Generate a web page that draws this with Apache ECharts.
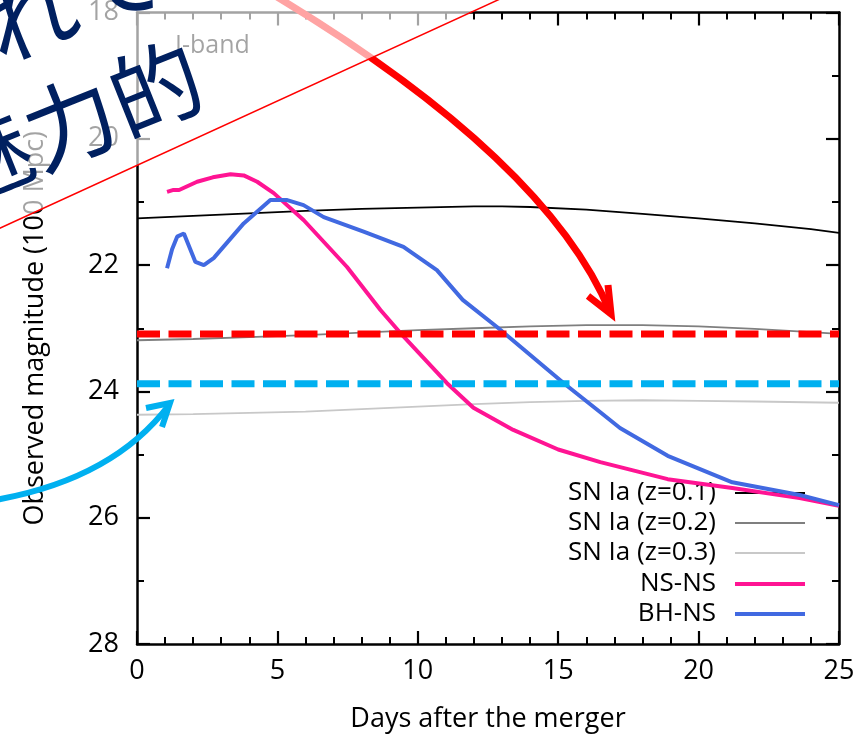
<!DOCTYPE html>
<html>
<head>
<meta charset="utf-8">
<script src="https://cdn.jsdelivr.net/npm/echarts@6/dist/echarts.min.js"></script>
<style>html,body{margin:0;padding:0;background:#fff;}#c{width:866px;height:736px;}</style>
</head>
<body>
<div id="c"></div>
<script>
// ---- data ----
const seriesNames = ['SN Ia (z=0.1)', 'SN Ia (z=0.2)', 'SN Ia (z=0.3)', 'NS-NS', 'BH-NS'];

const snIa01Days = [0, 2, 4, 6, 8, 10, 12, 13, 14, 16, 18, 20, 22, 24, 25];
const snIa01Mag  = [21.26, 21.22, 21.18, 21.14, 21.11, 21.09, 21.07, 21.07, 21.08, 21.12, 21.19, 21.26, 21.34, 21.43, 21.49];

const snIa02Days = [0, 2, 4, 6, 8, 10, 12, 14, 16, 18, 20, 22, 24, 25];
const snIa02Mag  = [23.19, 23.17, 23.14, 23.11, 23.07, 23.03, 23.0, 22.97, 22.95, 22.95, 22.97, 23.01, 23.06, 23.09];

const snIa03Days = [0, 2, 4, 6, 8, 10, 12, 14, 16, 18, 20, 22, 25];
const snIa03Mag  = [24.37, 24.36, 24.34, 24.32, 24.28, 24.24, 24.2, 24.17, 24.15, 24.14, 24.15, 24.16, 24.18];

const nsnsDays = [1.07, 1.3, 1.5, 2.14, 2.7, 3.33, 3.8, 4.28, 4.87, 5.94, 7.48, 8.67, 9.49, 11.04, 11.98, 13.4, 15, 16.5, 18.9, 21.2, 23.6, 25];
const nsnsMag  = [20.84, 20.81, 20.81, 20.68, 20.61, 20.56, 20.58, 20.68, 20.86, 21.29, 22.03, 22.71, 23.13, 23.87, 24.26, 24.61, 24.92, 25.12, 25.39, 25.53, 25.69, 25.81];

const bhnsDays = [1.07, 1.25, 1.43, 1.67, 2.08, 2.38, 2.73, 3.8, 4.75, 5.35, 5.93, 6.65, 8.07, 9.49, 10.68, 11.6, 12.82, 15.2, 16.5, 17.2, 18.9, 21.2, 23.6, 25];
const bhnsMag  = [22.05, 21.75, 21.55, 21.5, 21.95, 22.0, 21.89, 21.34, 20.97, 20.97, 21.05, 21.24, 21.47, 21.71, 22.08, 22.55, 22.98, 23.87, 24.33, 24.58, 25.02, 25.44, 25.64, 25.8];

const limitDays = [0, 25];
const limitRedMag = 23.09;
const limitBlueMag = 23.88;

const xTicks = [0, 5, 10, 15, 20, 25];
const yTicks = [18, 20, 22, 24, 26, 28];

// ---- build ----
const zip = (xs, ys) => xs.map((x, i) => [x, ys[i]]);
const FONT = '"Open Sans", "Noto Sans", sans-serif';
const colors = ['#000000', '#7f7f7f', '#c8c8c8', '#ff1493', '#4169e1'];
const widths = [1.8, 1.8, 1.8, 4, 4];
const datas = [
  zip(snIa01Days, snIa01Mag), zip(snIa02Days, snIa02Mag), zip(snIa03Days, snIa03Mag),
  zip(nsnsDays, nsnsMag), zip(bhnsDays, bhnsMag)
];

const series = seriesNames.map((n, i) => ({
  name: n, type: 'line', data: datas[i], showSymbol: false, symbol: 'none',
  lineStyle: { color: colors[i], width: widths[i] }, itemStyle: { color: colors[i] },
  z: 3 + i, silent: true
}));
series.push({
  name: 'limitRed', type: 'line', data: limitDays.map(d => [d, limitRedMag]), symbol: 'none',
  lineStyle: { color: '#ff0000', width: 7, type: [23, 8.5] }, z: 10, silent: true
});
series.push({
  name: 'limitBlue', type: 'line', data: limitDays.map(d => [d, limitBlueMag]), symbol: 'none',
  lineStyle: { color: '#00b0f0', width: 7, type: [23, 8.5] }, z: 10, silent: true
});

const legendCenters = [493, 523, 553, 584, 614];
const legendHeights = [2, 2, 2, 4, 4];
const legends = seriesNames.map((n, i) => ({
  data: [n], right: 61, top: legendCenters[i] - 15, orient: 'horizontal', align: 'right',
  icon: 'rect', itemWidth: 70, itemHeight: legendHeights[i], padding: 0,
  selectedMode: false,
  textStyle: { fontSize: 26, color: '#000', fontFamily: FONT, lineHeight: 30, padding: [0, 14, 0, 0] }
}));

const axisLineStyle = { color: '#000', width: 2.5 };
const xBase = {
  type: 'value', min: 0, max: 25, interval: 5,
  axisLine: { show: true, onZero: false, lineStyle: axisLineStyle },
  axisTick: { show: true, inside: true, length: 13, lineStyle: { color: '#000', width: 2.2 } },
  minorTick: { show: true, splitNumber: 5, length: 7, lineStyle: { color: '#000', width: 2 } },
  splitLine: { show: false }
};
const yBase = {
  type: 'value', min: 18, max: 28, interval: 2, inverse: true,
  axisLine: { show: true, onZero: false, lineStyle: axisLineStyle },
  axisTick: { show: true, inside: true, length: 13, lineStyle: { color: '#000', width: 2.2 } },
  minorTick: { show: true, splitNumber: 2, length: 7, lineStyle: { color: '#000', width: 2 } },
  splitLine: { show: false }
};

const option = {
  animation: false,
  backgroundColor: '#fff',
  title: { text: 'I-band', left: 170, top: 28, textStyle: { fontSize: 25, fontWeight: 'normal', color: '#000', fontFamily: FONT } },
  grid: { left: 137, right: 27, top: 12.5, bottom: 92, outerBoundsMode: 'none' },
  legend: legends,
  xAxis: [
    Object.assign({}, xBase, {
      position: 'bottom',
      axisLabel: { show: true, fontSize: 27, color: '#000', margin: 14, fontFamily: FONT,
        formatter: v => (xTicks.includes(v) ? String(v) : '') },
      name: 'Days after the merger', nameLocation: 'middle', nameGap: 62,
      nameTextStyle: { fontSize: 27, color: '#000', fontFamily: FONT }
    }),
    Object.assign({}, xBase, { position: 'top', axisLabel: { show: false } })
  ],
  yAxis: [
    Object.assign({}, yBase, {
      position: 'left',
      axisLabel: { show: true, fontSize: 27, color: '#000', margin: 18, fontFamily: FONT,
        formatter: v => (yTicks.includes(v) ? String(v) : '') },
      name: 'Observed magnitude (100 Mpc)', nameLocation: 'middle', nameGap: 88,
      nameTextStyle: { fontSize: 27, color: '#000', fontFamily: FONT }
    }),
    Object.assign({}, yBase, { position: 'right', axisLabel: { show: false } })
  ],
  series: series,
  graphic: [
    { type: 'bezierCurve', z: 50, silent: true,
      shape: { x1: 262, y1: -12, cpx1: 460, cpy1: 105, cpx2: 570, cpy2: 215, x2: 610, y2: 312 },
      style: { stroke: '#ff0000', lineWidth: 7, fill: null } },
    { type: 'polyline', z: 50, silent: true,
      shape: { points: [[588, 296], [611, 314], [608, 285]] },
      style: { stroke: '#ff0000', lineWidth: 7, fill: null, lineJoin: 'miter' } },
    { type: 'bezierCurve', z: 50, silent: true,
      shape: { x1: -5, y1: 500, cpx1: 80, cpy1: 485, cpx2: 135, cpy2: 450, x2: 169, y2: 405 },
      style: { stroke: '#00b0f0', lineWidth: 6, fill: null } },
    { type: 'polyline', z: 50, silent: true,
      shape: { points: [[146, 408], [170, 403], [162, 427]] },
      style: { stroke: '#00b0f0', lineWidth: 6, fill: null, lineJoin: 'miter' } },
    { type: 'polygon', z: 60, silent: true,
      shape: { points: [[0, 0], [497, 0], [0, 228]] },
      style: { fill: 'rgba(255,255,255,0.64)', stroke: null } },
    { type: 'line', z: 70, silent: true,
      shape: { x1: -2, y1: 229, x2: 500, y2: -1 },
      style: { stroke: '#ff0000', lineWidth: 1.5 } },
    { type: 'text', z: 80, silent: true, x: 70, y: 122, rotation: 0.38,
      style: { text: '魅力的', fontSize: 92, fontFamily: '"Noto Sans CJK JP"', fill: '#002060',
        align: 'center', verticalAlign: 'middle', textAlign: 'center', textVerticalAlign: 'middle' } },
    { type: 'text', z: 80, silent: true, x: 30, y: 16, rotation: 0.38,
      style: { text: 'されて', fontSize: 92, fontFamily: '"Noto Sans CJK JP"', fill: '#002060',
        align: 'center', verticalAlign: 'middle', textAlign: 'center', textVerticalAlign: 'middle' } }
  ]
};

const chart = echarts.init(document.getElementById('c'), null, { renderer: 'canvas' });
chart.setOption(option);
</script>
</body>
</html>
